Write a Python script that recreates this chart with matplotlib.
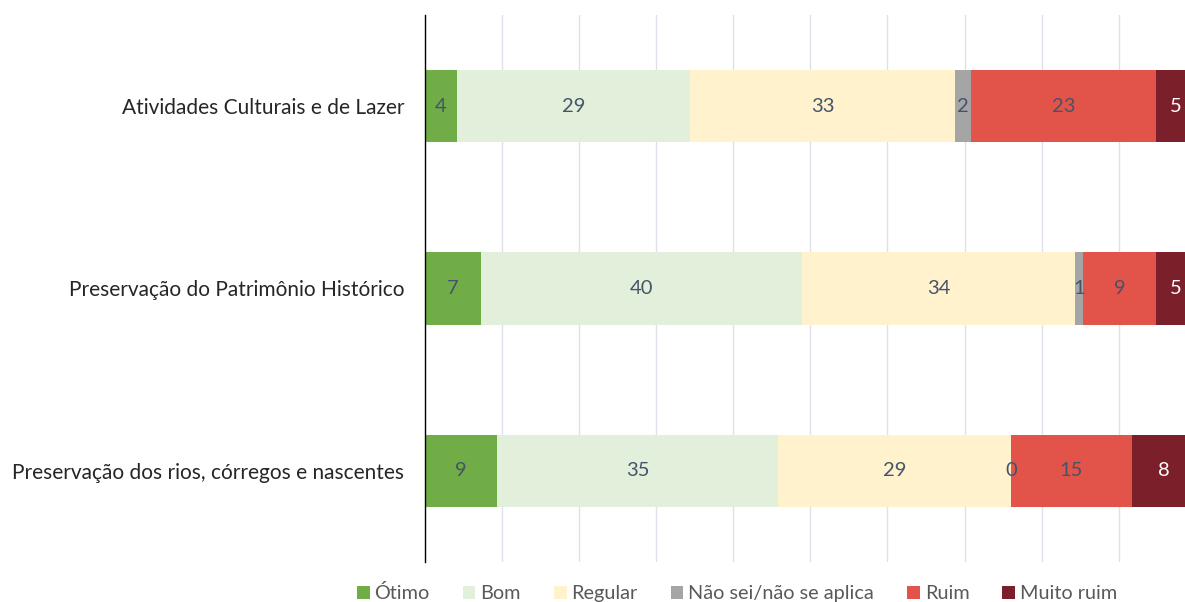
import numpy as np
import matplotlib.pyplot as plt

# categories (top to bottom) and counts per answer
categorias = ["Atividades Culturais e de Lazer",
              "Preservação do Patrimônio Histórico",
              "Preservação dos rios, córregos e nascentes"]
respostas = ["Ótimo", "Bom", "Regular", "Não sei/não se aplica", "Ruim", "Muito ruim"]
otimo = [4, 7, 9]
bom = [29, 40, 35]
regular = [33, 34, 29]
nao_sei = [2, 1, 0]
ruim = [23, 9, 15]
muito_ruim = [5, 5, 8]

cores = ["#70AD47", "#E2EFDA", "#FFF2CC", "#A5A5A5", "#E2534A", "#7B1F2B"]
cor_texto = ["#44546A", "#44546A", "#44546A", "#44546A", "#44546A", "white"]

plt.rcParams['font.family'] = ['Lato', 'DejaVu Sans']

series = np.array([otimo, bom, regular, nao_sei, ruim, muito_ruim], dtype=float)
totais = series.sum(axis=0)
pct = series / totais * 100

fig = plt.figure(figsize=(11.85, 6.02), dpi=100)
ax = fig.add_axes([425 / 1185, 40 / 602, 1 - 425 / 1185, 547 / 602])

y = np.arange(len(categorias))
esq = np.zeros(len(categorias))
for i, nome in enumerate(respostas):
    bars = ax.barh(y, pct[i], left=esq, height=0.395, color=cores[i],
                   label=nome, zorder=2)
    for j, b in enumerate(bars):
        cx = esq[j] + pct[i][j] / 2
        ax.text(cx, y[j], f"{int(series[i][j])}", ha="center", va="center",
                fontsize=14.5, color=cor_texto[i], zorder=3)
    esq += pct[i]

ax.set_ylim(2.5, -0.5)
ax.set_xlim(0, 98.6)
ax.set_yticks(y)
ax.set_yticklabels(categorias, fontsize=15, color="#262626")
ax.set_xticks(np.arange(0, 100, 10))
ax.tick_params(axis="x", length=0, labelbottom=False)
ax.tick_params(axis="y", length=0, pad=15)
ax.grid(axis="x", color="#DDE2EA", linewidth=1, zorder=0)
for s in ["top", "right", "bottom"]:
    ax.spines[s].set_visible(False)
ax.spines["left"].set_color("black")
ax.spines["left"].set_linewidth(1)

fig.legend(loc="lower center", bbox_to_anchor=(0.622, -0.03), ncol=6,
           frameon=False, fontsize=14.3, handlelength=0.65, handleheight=0.65,
           handletextpad=0.25, columnspacing=1.65, labelcolor="#595959")

plt.savefig("out.png", dpi=100)
